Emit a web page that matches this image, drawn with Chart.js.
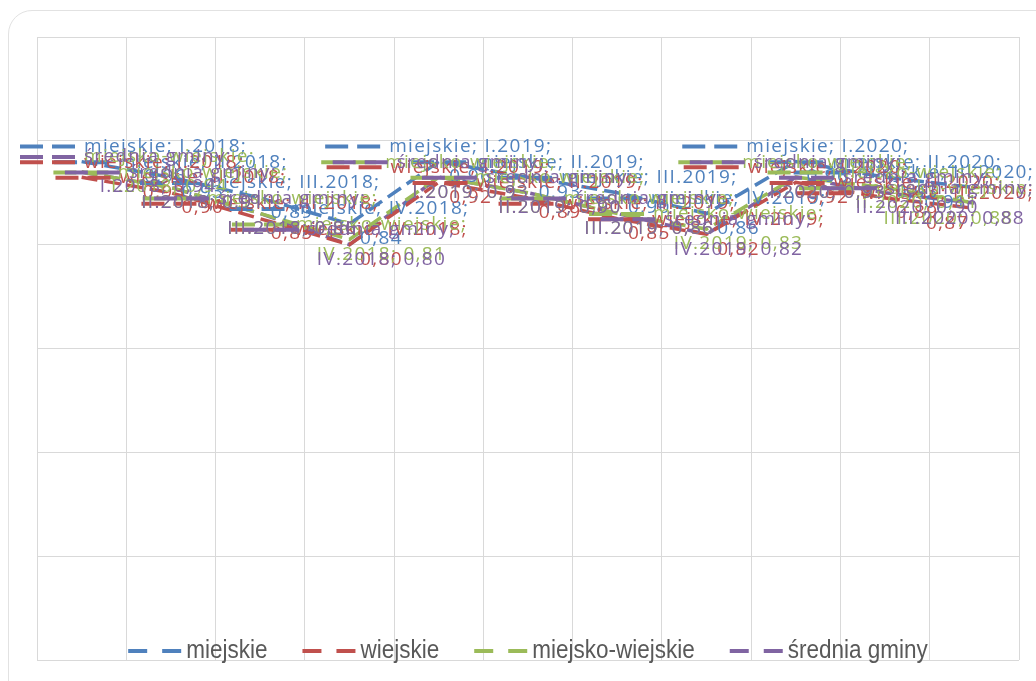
<!DOCTYPE html>
<html lang="pl">
<head>
<meta charset="utf-8">
<title>Wskaźnik gmin 2018–2020</title>
<script src="https://cdn.jsdelivr.net/npm/chart.js@4.4.1/dist/chart.umd.min.js"></script>
<style>
  html, body { margin: 0; padding: 0; background: #fff; overflow: hidden; }
  #karta {
    position: absolute; left: 8px; top: 10px; width: 1060px; height: 700px;
    border: 1px solid #e2e2e2; border-radius: 24px; background: #fff;
  }
  #wrap { position: absolute; left: 0; top: 0; width: 1036px; height: 681px; }
</style>
</head>
<body>
<div id="karta"></div>
<div id="wrap"><canvas id="wykres" width="1036" height="681"></canvas></div>
<script>
// kwartały i wartości wskaźnika dla typów gmin
const kwartaly = ['I.2018', 'II.2018', 'III.2018', 'IV.2018', 'I.2019', 'II.2019',
                  'III.2019', 'IV.2019', 'I.2020', 'II.2020', 'III.2020'];
const miejskie        = [0.96, 0.93, 0.89, 0.84, 0.96, 0.93, 0.90, 0.86, 0.96, 0.93, 0.91];
const wiejskie        = [0.93, 0.90, 0.85, 0.80, 0.92, 0.89, 0.85, 0.82, 0.92, 0.89, 0.87];
const miejskoWiejskie = [0.94, 0.91, 0.86, 0.81, 0.93, 0.90, 0.86, 0.83, 0.93, 0.91, 0.88];
const sredniaGminy    = [0.94, 0.91, 0.86, 0.80, 0.93, 0.90, 0.86, 0.82, 0.93, 0.90, 0.88];
const osY = { min: 0, max: 1.2, krok: 0.2 };

const kolory = ['#4F81BD', '#C0504D', '#9BBB59', '#8064A2'];

function seria(nazwa, dane, kolor) {
  return {
    label: nazwa,
    data: dane,
    borderColor: kolor,
    backgroundColor: kolor,
    borderWidth: 3.5,
    borderDash: [16, 7],
    pointRadius: 0,
    tension: 0,
    fill: false
  };
}

// rysuje klucz legendy: dwie kreski w kolorze serii
function klucz(ctx, x, y, kolor, dl, przerwa) {
  ctx.save();
  ctx.strokeStyle = kolor;
  ctx.lineWidth = 4;
  ctx.setLineDash([]);
  ctx.beginPath();
  ctx.moveTo(x, y); ctx.lineTo(x + dl, y);
  ctx.moveTo(x + dl + przerwa, y); ctx.lineTo(x + 2 * dl + przerwa, y);
  ctx.stroke();
  ctx.restore();
}

// etykiety danych: nazwa serii; kwartał; wartość (z kluczem legendy)
const etykiety = {
  id: 'etykiety',
  afterDatasetsDraw(chart) {
    const ctx = chart.ctx;
    const KLUCZ = 64, MAXW = 262, LH = 30;
    const lewo = 20, prawo = chart.width - 2;
    ctx.save();
    ctx.font = '19px "Open Sans"';
    ctx.letterSpacing = '1.3px';
    ctx.textBaseline = 'middle';
    ctx.textAlign = 'center';
    chart.data.datasets.forEach((ds, i) => {
      const meta = chart.getDatasetMeta(i);
      meta.data.forEach((pt, j) => {
        const kat = chart.data.labels[j];
        const wart = ds.data[j].toFixed(2).replace('.', ',');
        let l1 = ds.label + '; ' + kat + ';';
        let l2 = wart;
        if (KLUCZ + ctx.measureText(l1).width > MAXW) {
          l1 = ds.label + ';';
          l2 = kat + '; ' + wart;
        }
        // tekst w kolumnie za kluczem, wiersze wyśrodkowane w kolumnie
        const kol = Math.max(ctx.measureText(l1).width, ctx.measureText(l2).width);
        const w = KLUCZ + kol;
        let cx = pt.x;
        if (cx - w / 2 < lewo) cx = lewo + w / 2;
        if (cx + w / 2 > prawo) cx = prawo - w / 2;
        const x0 = cx - w / 2;
        const xt = x0 + KLUCZ + kol / 2;
        const y1 = pt.y - LH / 2, y2 = pt.y + LH / 2;
        klucz(ctx, x0, y1, ds.borderColor, 23, 9);
        ctx.fillStyle = ds.borderColor;
        ctx.fillText(l1, xt, y1);
        ctx.fillText(l2, xt, y2);
      });
    });
    ctx.restore();
  }
};

// legenda w dolnej części obszaru wykresu
const legenda = {
  id: 'legenda',
  afterDraw(chart) {
    const ctx = chart.ctx;
    const y = 651, KW = 53, ODST = 5, MIEDZY = 35, SKALA = 0.9;
    ctx.save();
    ctx.font = '25px "Liberation Sans Narrow", "Liberation Sans", sans-serif';
    ctx.textBaseline = 'middle';
    const el = chart.data.datasets.map(ds => ({
      nazwa: ds.label, kolor: ds.borderColor,
      t: ctx.measureText(ds.label).width * SKALA
    }));
    const calosc = el.reduce((s, e) => s + KW + ODST + e.t, 0) + MIEDZY * (el.length - 1);
    let x = 528 - calosc / 2;
    el.forEach(e => {
      klucz(ctx, x, y, e.kolor, 19, 15);
      ctx.save();
      ctx.translate(x + KW + ODST, y);
      ctx.scale(SKALA, 1);
      ctx.fillStyle = '#595959';
      ctx.fillText(e.nazwa, 0, 0);
      ctx.restore();
      x += KW + ODST + e.t + MIEDZY;
    });
    ctx.restore();
  }
};

new Chart(document.getElementById('wykres'), {
  type: 'line',
  data: {
    labels: kwartaly,
    datasets: [
      seria('miejskie', miejskie, kolory[0]),
      seria('wiejskie', wiejskie, kolory[1]),
      seria('miejsko-wiejskie', miejskoWiejskie, kolory[2]),
      seria('średnia gminy', sredniaGminy, kolory[3])
    ]
  },
  options: {
    responsive: false,
    animation: false,
    layout: { padding: { left: 37, top: 37, right: 17, bottom: 21 } },
    scales: {
      x: {
        offset: true,
        grid: { color: '#d9d9d9', drawTicks: false, offset: true },
        border: { display: false },
        ticks: { display: false }
      },
      y: {
        min: osY.min, max: osY.max,
        grid: { color: '#d9d9d9', drawTicks: false },
        border: { display: false },
        ticks: { display: false, stepSize: osY.krok }
      }
    },
    plugins: {
      legend: { display: false },
      tooltip: { enabled: false }
    }
  },
  plugins: [etykiety, legenda]
});
</script>
</body>
</html>
